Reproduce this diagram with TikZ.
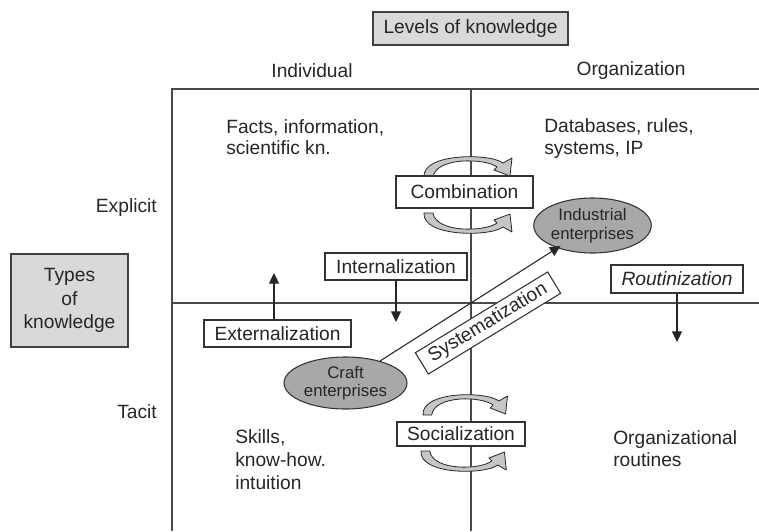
\documentclass[tikz,border=0pt]{standalone}
\usepackage{fontspec}
\setmainfont{Liberation Sans}
\usetikzlibrary{arrows.meta,shapes.geometric}
\definecolor{panelgray}{HTML}{D9D9D9}
\definecolor{entgray}{HTML}{A8A8A8}
\definecolor{swirlgray}{HTML}{C6C6C6}
\definecolor{framegray}{HTML}{4A4A4A}

\begin{document}
\begin{tikzpicture}[x=0.75pt,y=-0.75pt,
  every node/.style={font=\fontsize{14.4}{17}\selectfont, inner sep=0pt, text=black!85},
  panel/.style={draw=black!75, fill=panelgray, line width=0.8pt},
  stagebox/.style={draw=black!80, fill=white, line width=0.8pt, minimum height=20.25pt},
  firm/.style={ellipse, draw=black!80, fill=entgray, line width=0.8pt, align=center,
    font=\fontsize{12.6}{13.8}\selectfont},
  frameline/.style={draw=framegray, line width=1.1pt},
  arr/.style={-{Triangle[width=7.5pt,length=8pt]}, line width=0.8pt, draw=black!85},
  cyc/.pic={
    \filldraw[fill=swirlgray, draw=black!85, line width=0.6pt, line join=round]
      (0,0) .. controls (-2,-24) and (66,-24) .. (79,-14)
      -- (88,-19) -- (86,-1) -- (70,-7) -- (73,-10)
      .. controls (61,-19) and (12,-20) .. (9,0) -- cycle;
  }
]
\useasboundingbox (0,0) rectangle (759,531);

% quadrant frame
\draw[frameline] (172,531) -- (172,89) -- (759,89);
\draw[frameline] (172,303) -- (759,303);
\draw[frameline] (471,89) -- (471,531);

% headings
\node[panel, minimum width=146.25pt, minimum height=24.75pt] (levels) at (470.5,28.5) {Levels of knowledge};
\node (indiv) at (312,71) {Individual};
\node (org) at (631,71) {Organization};
\node[panel, minimum width=87.75pt, minimum height=69.75pt, align=center,
  font=\fontsize{14.4}{17.6}\selectfont] (types) at (69.5,300.5) {Types\\of\\knowledge};
\node[anchor=base east] (explicit) at (157,212) {Explicit};
\node[anchor=base east] (tacit) at (157,418) {Tacit};

% quadrant contents
\node[anchor=base west] (facts1) at (226,133) {Facts, information,};
\node[anchor=base west] (facts2) at (226,155) {scientific kn.};
\node[anchor=base west] (data1) at (544,132.5) {Databases, rules,};
\node[anchor=base west] (data2) at (544,154) {systems, IP};
\node[anchor=base west] (skill1) at (235,443) {Skills,};
\node[anchor=base west] (skill2) at (235,466) {know-how.};
\node[anchor=base west] (skill3) at (235,489) {intuition};
\node[anchor=base west] (orgr1) at (613,444) {Organizational};
\node[anchor=base west] (orgr2) at (613,466) {routines};

% circular arrows around combination and socialization
\pic at (424,177) {cyc};
\pic[yscale=-1] at (424,213) {cyc};
\pic[xscale=0.96] at (423,415) {cyc};
\pic[xscale=0.97, yscale=-1] at (421,451) {cyc};

% conversion modes
\node[stagebox, minimum width=102.75pt, minimum height=24pt] (comb) at (464.5,192) {Combination};
\node[stagebox, minimum width=106.5pt] (intern) at (396,266.5) {Internalization};
\node[stagebox, minimum width=110.25pt] (extern) at (277.5,333.5) {Externalization};
\node[stagebox, minimum width=96pt, minimum height=18pt] (social) at (461,434) {Socialization};
\node[stagebox, minimum width=99pt, minimum height=21pt,
  font=\fontsize{14.4}{17}\selectfont\itshape] (routine) at (677,279) {Routinization};

% enterprises
\node[firm, minimum width=92.25pt, minimum height=39pt] (craft) at (345.5,383) {Craft\\enterprises};
\node[firm, minimum width=86.25pt, minimum height=41.25pt] (indus) at (592.5,225.5) {Industrial\\enterprises};

\draw[arr, shorten >=-3pt] (craft) -- (indus);
\node[stagebox, rotate=31.4, minimum width=116.25pt, minimum height=18.75pt] (system) at (488,323) {Systematization};

% vertical arrows
\coordinate (intEnd) at (396,322);
\coordinate (extEnd) at (274,273);
\coordinate (routEnd) at (677,342);
\draw[arr] (intern) -- (intEnd);
\draw[arr] (extern.north -| extEnd) -- (extEnd);
\draw[arr] (routine) -- (routEnd);
\end{tikzpicture}
\end{document}
